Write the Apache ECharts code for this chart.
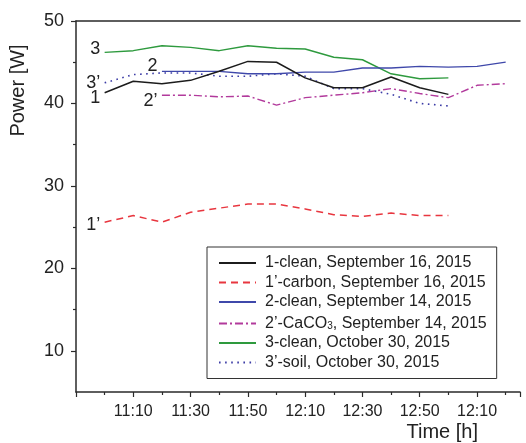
<!DOCTYPE html>
<html>
<head>
<meta charset="utf-8">
<script src="https://cdn.jsdelivr.net/npm/echarts@6/dist/echarts.min.js"></script>
<style>html,body{margin:0;padding:0;background:#fff}#c{width:526px;height:443px}</style>
</head>
<body>
<div id="c"></div>
<script>
// ---- data ----
const timesA = ['11:00','11:10','11:20','11:30','11:40','11:50','12:00','12:10','12:20','12:30','12:40','12:50','13:00'];
const timesB = ['11:20','11:30','11:40','11:50','12:00','12:10','12:20','12:30','12:40','12:50','13:00','13:10','13:20'];
const s1Clean   = [41.3, 42.7, 42.4, 42.8, 43.9, 45.1, 45.0, 43.1, 41.9, 41.9, 43.2, 41.9, 41.1];
const s1Carbon  = [25.6, 26.4, 25.6, 26.8, 27.3, 27.8, 27.8, 27.2, 26.5, 26.3, 26.7, 26.4, 26.4];
const s2Clean   = [43.9, 43.9, 43.9, 43.6, 43.6, 43.8, 43.8, 44.3, 44.3, 44.5, 44.4, 44.5, 45.0];
const s2CaCO3   = [41.0, 41.0, 40.8, 40.9, 39.8, 40.7, 41.0, 41.3, 41.8, 41.2, 40.7, 42.2, 42.4];
const s3Clean   = [46.2, 46.4, 47.0, 46.8, 46.4, 47.0, 46.7, 46.6, 45.6, 45.3, 43.6, 43.0, 43.1];
const s3Soil    = [42.5, 43.5, 43.7, 43.7, 43.3, 43.3, 43.6, 43.3, 41.8, 41.8, 41.1, 40.0, 39.7];
const xTickLabels = ['', '11:10', '11:30', '11:50', '12:10', '12:30', '12:50', '12:10'];
const yMajorTicks = [10, 20, 30, 40, 50];
const yMinorTicks = [15, 25, 35, 45];
const legendNames = ['1-clean, September 16, 2015','1\u2019-carbon, September 16, 2015','2-clean, September 14, 2015','2\u2019-CaCO3, September 14, 2015','3-clean, October 30, 2015','3\u2019-soil, October 30, 2015'];
const curveTags = ['1', '1\u2019', '2', '2\u2019', '3', '3\u2019'];

// ---- helpers ----
const X0 = 10*60 + 50; // axis origin 10:50
function mins(t){ const p = t.split(':'); return (+p[0])*60 + (+p[1]) - X0; }
function pts(times, vals){ return times.map((t,i)=>[mins(t), vals[i]]); }

const FONT = '"Liberation Sans", Arial, sans-serif';
const AX = '#2a2a2a';
const styles = [
  {color:'#1c1c1c', type:'solid', width:1.5, dy:5},
  {color:'#e8363f', type:[7,5], width:1.5, dy:3},
  {color:'#3f48aa', type:'solid', width:1.3, dy:-5},
  {color:'#b23a9c', type:[8,3,2,3], width:1.4, dy:6},
  {color:'#2e9a3e', type:'solid', width:1.4, dy:-3},
  {color:'#3c3ca6', type:[1.6,4.5], width:1.6, dy:0}
];
const seriesData = [pts(timesA,s1Clean), pts(timesA,s1Carbon), pts(timesB,s2Clean), pts(timesB,s2CaCO3), pts(timesA,s3Clean), pts(timesA,s3Soil)];

const series = seriesData.map((d,k)=>({
  name: legendNames[k],
  type: 'line',
  symbol: 'none',
  smooth: false,
  z: 10 - k,
  lineStyle: {color: styles[k].color, type: styles[k].type, width: styles[k].width},
  itemStyle: {color: styles[k].color},
  data: d.map((p,i)=> i===0 ? {
      value:p, symbol:'circle', symbolSize:1,
      itemStyle:{color:'rgba(0,0,0,0)', borderWidth:0},
      label:{show:true, formatter: curveTags[k], position:'left', distance:2, offset:[-2, styles[k].dy], fontSize:18, color:'#222', fontFamily:FONT}
    } : p)
}));

const chart = echarts.init(document.getElementById('c'), null, {renderer:'canvas'});
chart.setOption({
  animation: false,
  backgroundColor: '#fff',
  textStyle: {fontFamily: FONT},
  grid: {left: 76, top: 21, right: 6, bottom: 51, containLabel: false},
  xAxis: [{
    type: 'value', min: 0, max: 155, interval: 20,
    axisLine: {show:true, onZero:false, lineStyle:{color:AX, width:1.5}},
    axisTick: {show:true, inside:false, length:5, lineStyle:{color:AX, width:1.2}},
    minorTick: {show:true, splitNumber:2, length:3, lineStyle:{color:AX, width:1.2}},
    splitLine: {show:false},
    axisLabel: {fontSize:16, color:'#222', margin:12, fontFamily:FONT, showMaxLabel:false,
      formatter: (v)=> xTickLabels[Math.round(v/20)] ?? ''},
    name: 'Time [h]', nameLocation: 'end', nameGap: -42,
    nameTextStyle: {fontSize:20, color:'#222', align:'right', verticalAlign:'top', padding:[30,0,0,0], fontFamily:FONT}
  },{
    type: 'value', position: 'top', min: 0, max: 155,
    axisLine: {show:true, onZero:false, lineStyle:{color:AX, width:1.5}},
    axisTick: {show:false}, axisLabel: {show:false}, splitLine: {show:false}
  }],
  yAxis: [{
    type: 'value', min: 5, max: 50, interval: 5,
    axisLine: {show:true, onZero:false, lineStyle:{color:AX, width:1.5}},
    axisTick: {show:true, inside:false, length:5, customValues: yMajorTicks, lineStyle:{color:AX, width:1.2}},
    splitLine: {show:false},
    axisLabel: {fontSize:18, color:'#222', margin:12, fontFamily:FONT, customValues: yMajorTicks},
    name: 'Power [W]', nameLocation: 'middle', nameGap: 48,
    nameTextStyle: {fontSize:20, color:'#222', padding:[0,0,0,232], fontFamily:FONT}
  },{
    type: 'value', position: 'left', min: 5, max: 50, interval: 5,
    axisLine: {show:false},
    axisTick: {show:true, inside:false, length:3, customValues: yMinorTicks, lineStyle:{color:AX, width:1.2}},
    axisLabel: {show:false}, splitLine: {show:false}
  }],
  legend: {
    show: true, orient: 'vertical', left: 207, top: 247,
    backgroundColor: '#fff', borderColor: '#333', borderWidth: 1, borderRadius: 0,
    padding: [8, 10, 8, 11],
    itemWidth: 37, itemHeight: 14, itemGap: 3.5,
    itemStyle: {opacity: 0},
    data: legendNames,
    formatter: (n)=> n.replace('CaCO3', 'CaCO{sub|3}'),
    textStyle: {fontSize:16, color:'#222', lineHeight:16, padding:[0,0,0,4], fontFamily:FONT,
      rich: {sub: {fontSize:10, lineHeight:16, verticalAlign:'bottom', padding:[8,0,0,0], color:'#222', fontFamily:FONT}}}
  },
  series: series
});
</script>
</body>
</html>
